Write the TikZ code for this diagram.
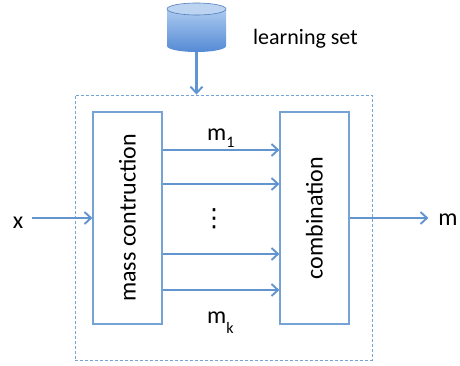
\documentclass[tikz,border=0pt]{standalone}
\usepackage{fontspec}
\setmainfont{Carlito}
\newfontfamily\symfont{DejaVu Sans}
\usetikzlibrary{arrows.meta}
\definecolor{lineblue}{RGB}{98,148,208}
\definecolor{boxblue}{RGB}{118,163,214}
\definecolor{cyltop}{RGB}{172,202,240}
\definecolor{cylbot}{RGB}{84,138,212}
\definecolor{cylend}{RGB}{188,212,242}
\definecolor{cylline}{RGB}{80,125,185}
\begin{document}
\begin{tikzpicture}[x=1pt,y=1pt,
  box/.style={draw=boxblue, line width=1.2pt, minimum width=69pt, minimum height=212pt, inner sep=0pt},
  conn/.style={draw=lineblue, line width=2.2pt, -{Straight Barb[length=6.5pt,width=12pt,line width=1.9pt]}},
  lbl/.style={font=\fontsize{24}{28}\selectfont, inner sep=0pt},
  sublbl/.style={font=\fontsize{24}{28}\selectfont, inner sep=0pt, anchor=base west},
]
\useasboundingbox (0,0) rectangle (460,365);
% outer dashed frame
\node[draw=boxblue, dash pattern=on 3pt off 2pt, line width=0.9pt,
      minimum width=297pt, minimum height=265pt, inner sep=0pt] (outer) at (223.5,137.5) {};
% database cylinder
\shade[top color=cyltop, bottom color=cylbot]
  (167,356) -- (167,319) arc[start angle=180, end angle=360, x radius=29.5, y radius=6]
  -- (226,356) -- cycle;
\filldraw[fill=cylend, draw=cylline, line width=0.6pt] (196.5,356) ellipse[x radius=29.5, y radius=6];
\coordinate (db) at (196.5,313);
\node[font=\fontsize{22}{26}\selectfont, inner sep=0pt, anchor=base west] (ls) at (253,320) {learning set};
\draw[conn] (db) -- (db |- outer.north);
% boxes
\node[box] (mc) at (127.5,147) {};
\node[lbl, rotate=90] (mct) at (mc.center) {mass contruction};
\node[box] (comb) at (314.5,147) {};
\node[lbl, rotate=90] (combt) at (comb.center) {combination};
% parallel arrows
\draw[conn] (mc.east |- 0,215) -- (comb.west |- 0,215);
\draw[conn] (mc.east |- 0,181) -- (comb.west |- 0,181);
\draw[conn] (mc.east |- 0,111) -- (comb.west |- 0,111);
\draw[conn] (mc.east |- 0,75) -- (comb.west |- 0,75);
\node[sublbl] (m1) at (207,225) {m\raisebox{-7pt}{\fontsize{16}{18}\selectfont 1}};
\node[sublbl] (mk) at (207,42) {m\raisebox{-10pt}{\fontsize{16}{18}\selectfont k}};
\node[inner sep=0pt, font=\symfont\fontsize{25}{28}\selectfont] (dots) at (214,146.5) {⋮};
% input and output
\node[lbl, outer xsep=9pt] (x) at (18,142) {x};
\draw[conn] (x.east |- mc.west) -- (mc.west);
\node[lbl, outer xsep=10pt] (m) at (448,145) {m};
\draw[conn] (comb.east) -- (m.west |- comb.east);
\end{tikzpicture}
\end{document}
